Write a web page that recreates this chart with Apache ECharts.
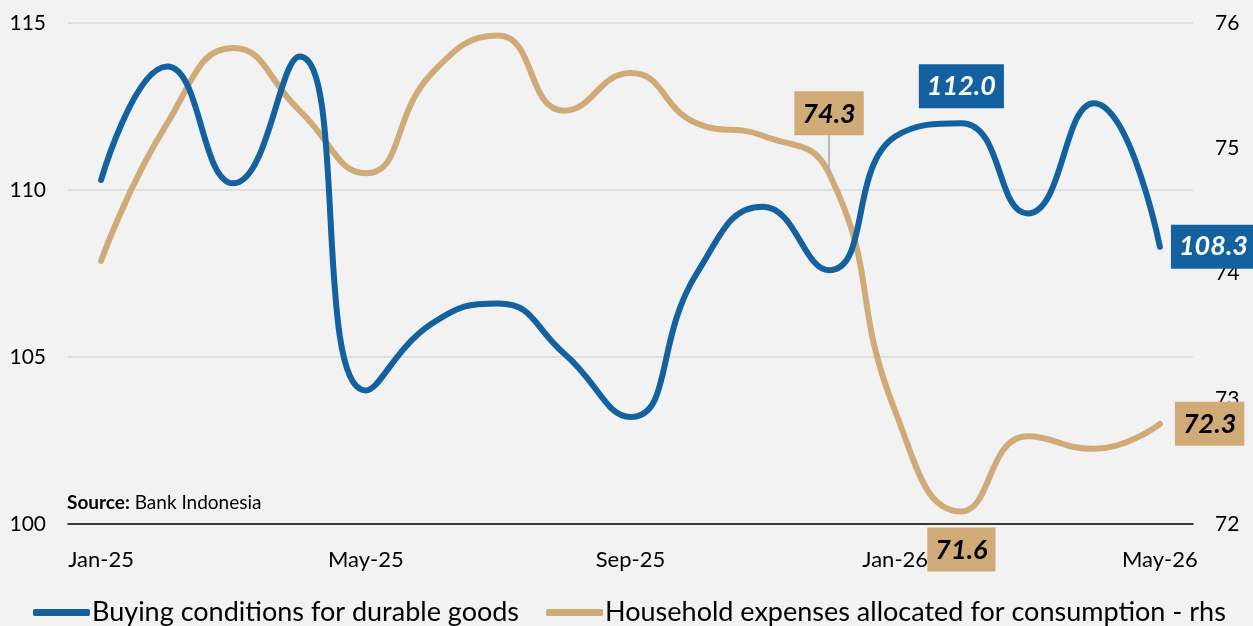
<!DOCTYPE html>
<html>
<head>
<meta charset="utf-8">
<script src="https://cdn.jsdelivr.net/npm/echarts@6/dist/echarts.min.js"></script>
<style>
  html, body { margin: 0; padding: 0; background: #f2f2f2; }
  #chart { width: 1253px; height: 626px; }
</style>
</head>
<body>
<div id="chart"></div>
<script>
// months on the x axis
var months = ['Jan-25', 'Feb-25', 'Mar-25', 'Apr-25', 'May-25', 'Jun-25', 'Jul-25', 'Aug-25',
    'Sep-25', 'Oct-25', 'Nov-25', 'Dec-25', 'Jan-26', 'Feb-26', 'Mar-26', 'Apr-26', 'May-26'];

// buying conditions for durable goods (lhs)
var buyingValues = [110.3, 113.7, 110.2, 114.0, 104.0, 106.0, 106.6, 105.1,
    103.2, 107.5, 109.5, 107.6, 111.6, 112.0, 109.3, 112.6, 108.3];

// household expenses allocated for consumption (rhs)
var householdValues = [74.1, 75.2, 75.8, 75.3, 74.8, 75.6, 75.9, 75.3,
    75.6, 75.2, 75.1, 74.8, 72.9, 72.1, 72.7, 72.6, 72.8];

// annotated values as printed on the chart
var buyingNotes = { 13: '112.0', 16: '108.3' };
var householdNotes = { 11: '74.3', 13: '71.6', 16: '72.3' };

var blue = '#13619f';
var tan = '#d0ab78';
var fontFamily = 'Lato, "Open Sans", sans-serif';

function noteLabel(text, bg, color, position, distance) {
    return {
        show: true,
        formatter: text,
        position: position,
        distance: distance,
        backgroundColor: bg,
        color: color,
        fontFamily: fontFamily,
        fontSize: 27,
        fontWeight: 'bold',
        fontStyle: 'italic',
        padding: [9, 8, 8, 8]
    };
}

var buyingData = buyingValues.map(function (v, i) {
    var item = { value: v };
    if (i === 13) item.label = noteLabel(buyingNotes[i], blue, '#fff', 'top', 14);
    if (i === 16) item.label = noteLabel(buyingNotes[i], blue, '#fff', 'right', 10);
    return item;
});

var householdData = householdValues.map(function (v, i) {
    var item = { value: v };
    if (i === 11) {
        item.label = noteLabel(householdNotes[i], tan, '#000', 'top', 4);
        item.labelLine = { show: true, lineStyle: { color: '#a6a6a6', width: 1.5 } };
    }
    if (i === 13) item.label = noteLabel(householdNotes[i], tan, '#000', 'bottom', 15);
    if (i === 16) item.label = noteLabel(householdNotes[i], tan, '#000', 'right', 14);
    return item;
});

var chart = echarts.init(document.getElementById('chart'));

var option = {
    backgroundColor: '#f2f2f2',
    animation: false,
    textStyle: { fontFamily: fontFamily },
    title: {
        left: 62,
        top: 488,
        text: '{b|Source:} Bank Indonesia',
        textStyle: {
            fontSize: 19,
            fontWeight: 'normal',
            color: '#000',
            fontFamily: fontFamily,
            rich: {
                b: { fontSize: 19, fontWeight: 'bold', color: '#000', fontFamily: fontFamily }
            }
        }
    },
    legend: {
        left: 28,
        top: 594,
        itemWidth: 57,
        itemHeight: 7,
        itemGap: 27,
        icon: 'roundRect',
        textStyle: { fontSize: 27, color: '#000', fontFamily: fontFamily, padding: [0, 0, 0, -3] },
        data: ['Buying conditions for durable goods', 'Household expenses allocated for consumption - rhs']
    },
    grid: {
        left: 68,
        right: 60,
        top: 23,
        bottom: 102,
        outerBoundsMode: 'none'
    },
    xAxis: {
        type: 'category',
        data: months,
        boundaryGap: true,
        axisLine: { lineStyle: { color: '#000', width: 1.5 } },
        axisTick: { interval: 3, length: 7, lineStyle: { color: '#000', width: 1.5 } },
        axisLabel: { interval: 3, margin: 25, fontSize: 22, color: '#000', fontFamily: fontFamily }
    },
    yAxis: [
        {
            type: 'value',
            min: 100,
            max: 115,
            interval: 5,
            axisLine: { show: false },
            axisTick: { show: false },
            axisLabel: { margin: 22, fontSize: 21, color: '#000', fontFamily: fontFamily },
            splitLine: { lineStyle: { color: '#d9d9d9', width: 1.5 } }
        },
        {
            type: 'value',
            min: 72,
            max: 76,
            interval: 1,
            axisLine: { show: false },
            axisTick: { show: false },
            axisLabel: { margin: 22, fontSize: 21, color: '#000', fontFamily: fontFamily },
            splitLine: { show: false }
        }
    ],
    series: [
        {
            name: 'Buying conditions for durable goods',
            type: 'line',
            yAxisIndex: 0,
            smooth: 0.5,
            showSymbol: true,
            showAllSymbol: true,
            symbol: 'circle',
            symbolSize: 2,
            z: 3,
            lineStyle: { color: blue, width: 6, cap: 'round' },
            itemStyle: { color: blue },
            data: buyingData
        },
        {
            name: 'Household expenses allocated for consumption - rhs',
            type: 'line',
            yAxisIndex: 1,
            smooth: 0.5,
            showSymbol: true,
            showAllSymbol: true,
            symbol: 'circle',
            symbolSize: 2,
            z: 2,
            lineStyle: { color: tan, width: 6, cap: 'round' },
            itemStyle: { color: tan },
            // lift the Dec-25 note above the curve, leaving a leader line
            labelLayout: function (params) {
                if (params.dataIndex === 11) {
                    return { dy: -33 };
                }
            },
            data: householdData
        }
    ]
};

chart.setOption(option);
</script>
</body>
</html>
